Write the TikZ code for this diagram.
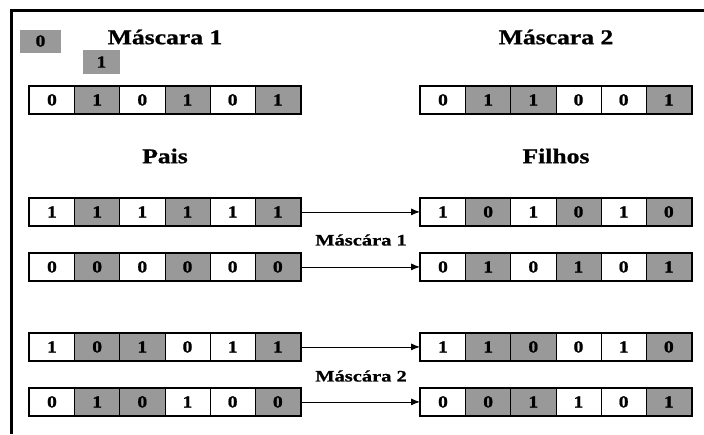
\documentclass[tikz,border=0pt]{standalone}
\usepackage{fontspec}
\setmainfont{Liberation Serif}
\usetikzlibrary{arrows.meta}
\definecolor{cellgray}{RGB}{153,153,153}
\tikzset{
  bitcell/.style={draw=black, line width=0.8pt, minimum width=45.17pt, minimum height=27pt, inner sep=0pt, anchor=north west, font=\fontsize{17}{17}\selectfont\bfseries\addfontfeature{FakeStretch=1.15,FakeBold=1}},
  gcell/.style={bitcell, fill=cellgray},
  wcell/.style={bitcell, fill=white},
  rowframe/.style={draw=black, line width=2pt},
  title/.style={font=\fontsize{21}{21}\selectfont\bfseries\addfontfeature{FakeStretch=1.22,FakeBold=1}},
  sublabel/.style={font=\fontsize{16}{16}\selectfont\bfseries\addfontfeature{FakeStretch=1.28,FakeBold=0.8}},
  legendbox/.style={fill=cellgray, inner sep=0pt, font=\fontsize{17}{17}\selectfont\bfseries\addfontfeature{FakeStretch=1.15,FakeBold=1}},
  conn/.style={draw=black, line width=0.8pt, -{Latex[length=9pt,width=7pt]}},
  frameline/.style={draw=black, line width=3pt}
}
% \bitrow{name}{x}{y}{digit/style list}
\newcommand{\bitrow}[4]{%
  \foreach \d/\s [count=\i] in {#4} {
    \node[\s] (#1-\i) at ({#2+(\i-1)*45.17},#3) {\d};
  }
  \draw[rowframe] (#1-1.north west) rectangle (#1-6.south east);
}
\begin{document}
\begin{tikzpicture}[x=1pt,y=-1pt]
\useasboundingbox (0,0) rectangle (704,434);
% frame
\draw[frameline] (11.5,434) -- (11.5,10.5) -- (704,10.5);
% legend boxes
\node[legendbox, minimum width=41pt, minimum height=23pt] (leg0) at (40.5,41) {0};
\node[legendbox, minimum width=37pt, minimum height=24pt] (leg1) at (101.5,62) {1};
% titles
\node[title] (t1) at (165,37) {Máscara 1};
\node[title] (t2) at (556,37) {Máscara 2};
\node[title] (pais) at (165,156) {Pais};
\node[title] (filhos) at (556,156) {Filhos};
% masks
\bitrow{m1}{29}{86}{0/wcell,1/gcell,0/wcell,1/gcell,0/wcell,1/gcell}
\bitrow{m2}{420}{86}{0/wcell,1/gcell,1/gcell,0/wcell,0/wcell,1/gcell}
% group 1
\bitrow{pa}{29}{198}{1/wcell,1/gcell,1/wcell,1/gcell,1/wcell,1/gcell}
\bitrow{pb}{29}{253}{0/wcell,0/gcell,0/wcell,0/gcell,0/wcell,0/gcell}
\bitrow{ca}{420}{198}{1/wcell,0/gcell,1/wcell,0/gcell,1/wcell,0/gcell}
\bitrow{cb}{420}{253}{0/wcell,1/gcell,0/wcell,1/gcell,0/wcell,1/gcell}
\draw[conn] (pa-6.east) -- (ca-1.west);
\draw[conn] (pb-6.east) -- (cb-1.west);
\node[sublabel] (lab1) at (361,240) {Máscára 1};
% group 2
\bitrow{pc}{29}{333}{1/wcell,0/gcell,1/gcell,0/wcell,1/wcell,1/gcell}
\bitrow{pd}{29}{388}{0/wcell,1/gcell,0/gcell,1/wcell,0/wcell,0/gcell}
\bitrow{cc}{420}{333}{1/wcell,1/gcell,0/gcell,0/wcell,1/wcell,0/gcell}
\bitrow{cd}{420}{388}{0/wcell,0/gcell,1/gcell,1/wcell,0/wcell,1/gcell}
\draw[conn] (pc-6.east) -- (cc-1.west);
\draw[conn] (pd-6.east) -- (cd-1.west);
\node[sublabel] (lab2) at (361,376) {Máscára 2};
\end{tikzpicture}
\end{document}
